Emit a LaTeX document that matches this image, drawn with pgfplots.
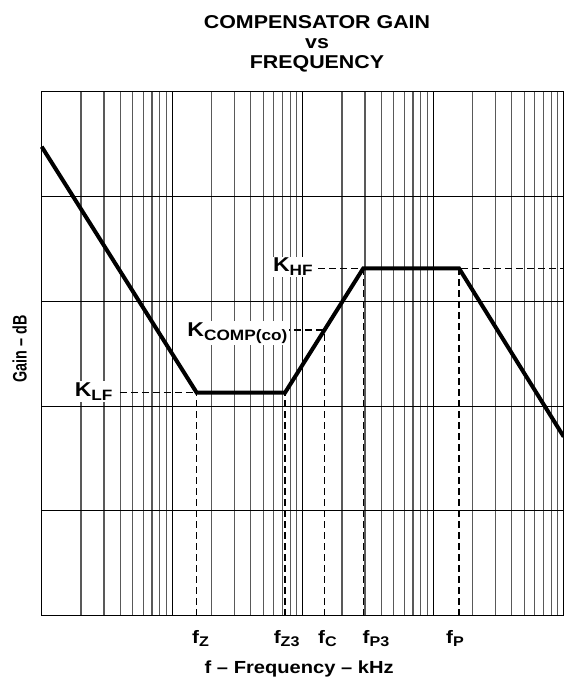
\documentclass[border=0pt]{standalone}
\usepackage{fontspec}
\setmainfont{Liberation Sans}[FakeStretch=1.15]
\usepackage{pgfplots}
\pgfplotsset{compat=1.18}
\newcommand{\fl}[1]{\fontsize{18}{18}\selectfont\bfseries f\raisebox{-3.5pt}{\fontsize{14}{14}\selectfont\bfseries #1}}
\newcommand{\kl}[1]{\fontsize{20}{20}\selectfont\bfseries K\raisebox{-4pt}{\fontsize{15}{15}\selectfont\bfseries #1}}
\begin{document}
\begin{tikzpicture}
\begin{axis}[
  at={(0,0)}, anchor=south west, scale only axis,
  width=522pt, height=524pt,
  xmode=log, xmin=1, xmax=10000, ymin=0, ymax=5,
  xtick={1,10,100,1000,10000}, xticklabels={},
  ytick={0,1,2,3,4,5}, yticklabels={},
  major tick length=0pt, minor tick length=0pt,
  xmajorgrids, xminorgrids, ymajorgrids,
  major grid style={black, line width=0.9pt},
  minor grid style={black!65, line width=1.1pt},
  axis line style={black, line width=1.3pt},
  extra x ticks={16.48,75.4,154.9,364.5,1469},
  extra x tick labels={{\fl{Z}},{\fl{Z3}},{\fl{C}},{\fl{P3}},{\fl{P}}},
  extra x tick style={grid=none, major tick length=0pt,
    xticklabel style={anchor=base, yshift=-27.5pt, inner sep=0pt}},
  clip=false,
]
% dashed guide lines
\pgfplotsset{every axis plot/.append style={}}
\addplot[black, line width=1.2pt, dash pattern=on 7pt off 4pt] coordinates {(3.98,2.128) (15.41,2.128)};
\addplot[black, line width=1.2pt, dash pattern=on 7pt off 4pt] coordinates {(15.41,0) (15.41,2.128)};
\addplot[black, line width=1.2pt, dash pattern=on 7pt off 4pt] coordinates {(73.2,0) (73.2,2.128)};
\addplot[black, line width=1.2pt, dash pattern=on 7pt off 4pt] coordinates {(70.6,2.726) (146.4,2.726)};
\addplot[black, line width=1.2pt, dash pattern=on 7pt off 4pt] coordinates {(146.4,0) (146.4,2.726)};
\addplot[black, line width=1.2pt, dash pattern=on 7pt off 4pt] coordinates {(131,3.315) (10000,3.315)};
\addplot[black, line width=1.2pt, dash pattern=on 7pt off 4pt] coordinates {(291.3,0) (291.3,3.315)};
\addplot[black, line width=1.2pt, dash pattern=on 7pt off 4pt] coordinates {(1576,0) (1576,3.315)};
% labels
\node[fill=white, anchor=base west, inner sep=1.5pt] at (axis cs:1.74,2.09) {\kl{LF}};
\node[fill=white, anchor=base west, inner sep=1.5pt] at (axis cs:12.7,2.662) {\kl{COMP(co)}};
\node[fill=white, anchor=base west, inner sep=1.5pt] at (axis cs:57.5,3.280) {\kl{HF}};
% gain curve
\addplot[black, line width=4pt, line join=miter] coordinates {
  (1,4.475) (15.41,2.128) (73.2,2.128) (291.3,3.315) (1576,3.315) (10000,1.708)};
\end{axis}
\node[anchor=base, font=\bfseries\fontsize{18.6}{18.6}\selectfont] at (275.3pt,587.4pt) {COMPENSATOR GAIN};
\node[anchor=base, font=\bfseries\fontsize{18.6}{18.6}\selectfont] at (275.3pt,567.4pt) {vs};
\node[anchor=base, font=\bfseries\fontsize{18.6}{18.6}\selectfont] at (275.3pt,547.4pt) {FREQUENCY};
\node[anchor=base, font=\bfseries\fontsize{17.5}{17.5}\selectfont] at (257.5pt,-57.3pt) {f – Frequency – kHz};
\node[anchor=base, rotate=90] at (-15pt,266.7pt) {\scalebox{0.64}[1]{\bfseries\fontsize{19.5}{19.5}\selectfont Gain – dB}};
\pgfresetboundingbox
\path[use as bounding box] (-41.7pt,-63.3pt) rectangle (522.3pt,615.7pt);
\end{tikzpicture}
\end{document}
